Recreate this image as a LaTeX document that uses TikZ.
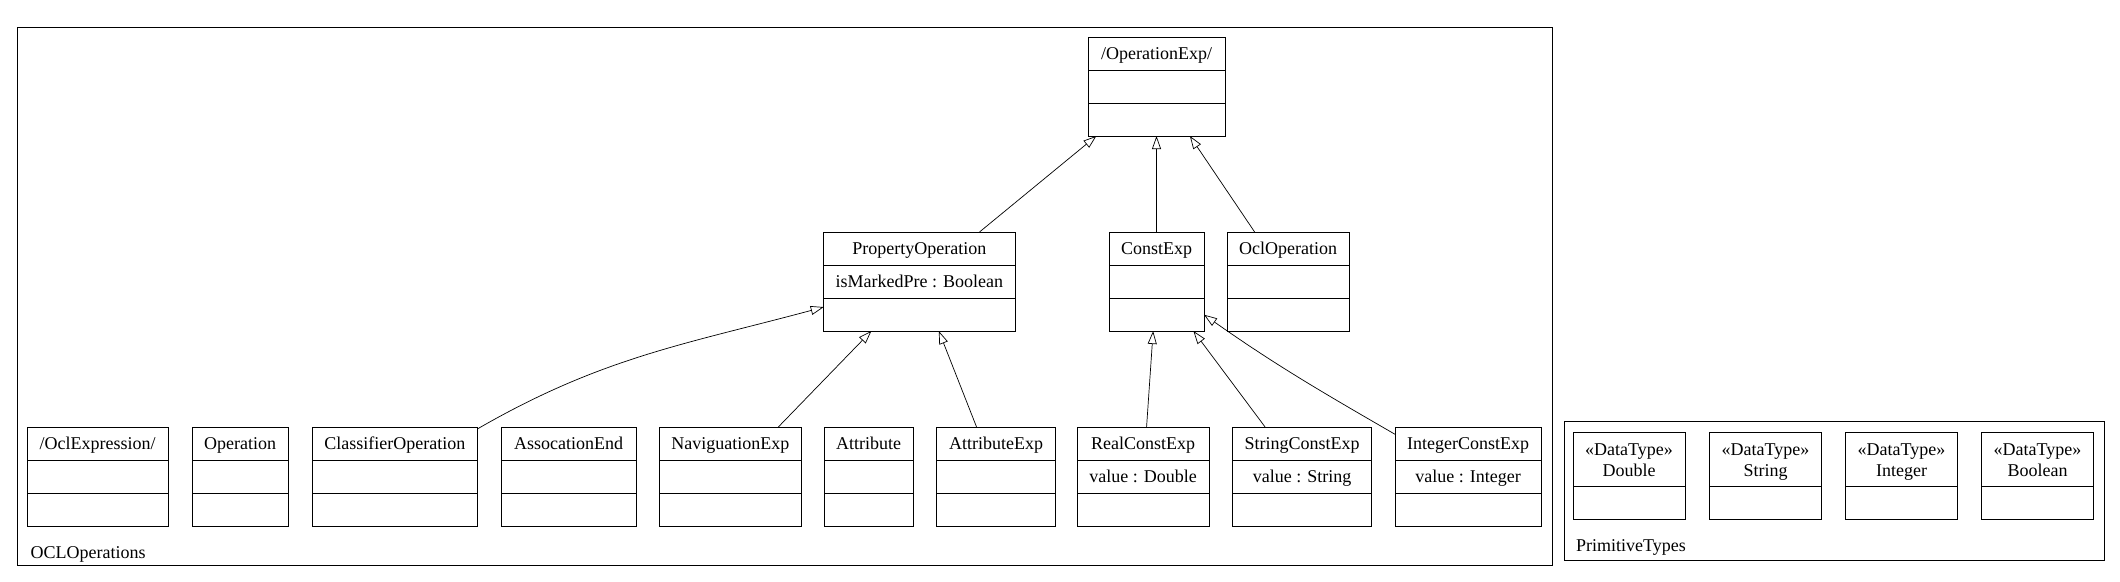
\documentclass[tikz,border=0pt]{standalone}
\usepackage{fontspec}
\setmainfont{Liberation Serif}
\usetikzlibrary{positioning,shapes.multipart,arrows.meta}
\newcommand{\cmp}{\rule[-10pt]{0pt}{32pt}}
\begin{document}
\begin{tikzpicture}[x=1pt,y=-1pt,font=\fontsize{18}{21}\selectfont,
  cls/.style={draw,line width=1pt,rectangle split,rectangle split parts=3,inner ysep=0pt,inner xsep=3pt,outer sep=0pt,anchor=north west},
  dtype/.style={draw,line width=1pt,rectangle split,rectangle split parts=2,inner ysep=0pt,outer sep=0pt,align=center,minimum width=112pt,anchor=north west},
  pkg/.style={draw,line width=1pt,anchor=north west,inner sep=0pt},
  gen/.style={line width=0.7pt,-{Triangle[open,length=13pt,width=9pt]}}]
  \useasboundingbox (0,0) rectangle (2120,581);
  \node[pkg,minimum width=1535.5pt,minimum height=538pt] (oclpkg) at (16.5,27) {};
  \node[pkg,minimum width=540.5pt,minimum height=139pt] (primpkg) at (1563.5,421) {};
  \node[anchor=base west] (oclpkgname) at ([xshift=10.5pt,yshift=8pt]oclpkg.south west) {OCLOperations};
  \node[anchor=base west] (primpkgname) at ([xshift=9pt,yshift=10pt]primpkg.south west) {PrimitiveTypes};

  \node[cls,minimum width=137pt] (opexp) at (1088,37) {\cmp/OperationExp/\nodepart{two}\cmp\nodepart{three}\cmp};
  \node[cls,minimum width=191.3pt] (propop) at (823.7,232) {\cmp PropertyOperation\nodepart{two}\cmp isMarkedPre : Boolean\nodepart{three}\cmp};
  \node[cls,minimum width=95pt] (constexp) at (1109,232) {\cmp ConstExp\nodepart{two}\cmp\nodepart{three}\cmp};
  \node[cls,minimum width=122pt,right=23pt of constexp] (oclop) {\cmp OclOperation\nodepart{two}\cmp\nodepart{three}\cmp};

  \node[cls,minimum width=141pt] (oclexpr) at (27.2,427) {\cmp/OclExpression/\nodepart{two}\cmp\nodepart{three}\cmp};
  \node[cls,minimum width=96pt,right=24pt of oclexpr] (oper) {\cmp Operation\nodepart{two}\cmp\nodepart{three}\cmp};
  \node[cls,minimum width=164.5pt,right=24.5pt of oper] (clsop) {\cmp ClassifierOperation\nodepart{two}\cmp\nodepart{three}\cmp};
  \node[cls,minimum width=135pt,right=24pt of clsop] (assocend) {\cmp AssocationEnd\nodepart{two}\cmp\nodepart{three}\cmp};
  \node[cls,minimum width=141.6pt,right=23.4pt of assocend] (navexp) {\cmp NaviguationExp\nodepart{two}\cmp\nodepart{three}\cmp};
  \node[cls,minimum width=89pt,right=23pt of navexp] (attr) {\cmp Attribute\nodepart{two}\cmp\nodepart{three}\cmp};
  \node[cls,minimum width=118.4pt,right=23.6pt of attr] (attrexp) {\cmp AttributeExp\nodepart{two}\cmp\nodepart{three}\cmp};
  \node[cls,minimum width=132pt,right=22pt of attrexp] (realc) {\cmp RealConstExp\nodepart{two}\cmp value : Double\nodepart{three}\cmp};
  \node[cls,minimum width=138.4pt,right=23.6pt of realc] (strc) {\cmp StringConstExp\nodepart{two}\cmp value : String\nodepart{three}\cmp};
  \node[cls,minimum width=146pt,right=24pt of strc] (intc) {\cmp IntegerConstExp\nodepart{two}\cmp value : Integer\nodepart{three}\cmp};

  \node[dtype] (dbl) at (1573,432) {\rule{0pt}{23pt}«DataType»\\Double\rule[-9pt]{0pt}{9pt}\nodepart{two}\cmp};
  \node[dtype,right=24.5pt of dbl] (str) {\rule{0pt}{23pt}«DataType»\\String\rule[-9pt]{0pt}{9pt}\nodepart{two}\cmp};
  \node[dtype,right=24pt of str] (int) {\rule{0pt}{23pt}«DataType»\\Integer\rule[-9pt]{0pt}{9pt}\nodepart{two}\cmp};
  \node[dtype,right=24pt of int] (bool) {\rule{0pt}{23pt}«DataType»\\Boolean\rule[-9pt]{0pt}{9pt}\nodepart{two}\cmp};

  \draw[gen] (propop) -- (opexp);
  \draw[gen] (constexp) -- (opexp);
  \draw[gen] (oclop) -- (opexp);
  \draw[gen] (clsop) to[out=30,in=195] (propop);
  \draw[gen] (navexp) -- (propop);
  \draw[gen] (attrexp) -- (propop);
  \draw[gen] (realc) -- (constexp);
  \draw[gen] (strc) -- (constexp);
  \draw[gen] (intc) to[out=150,in=325] (constexp);
\end{tikzpicture}
\end{document}
